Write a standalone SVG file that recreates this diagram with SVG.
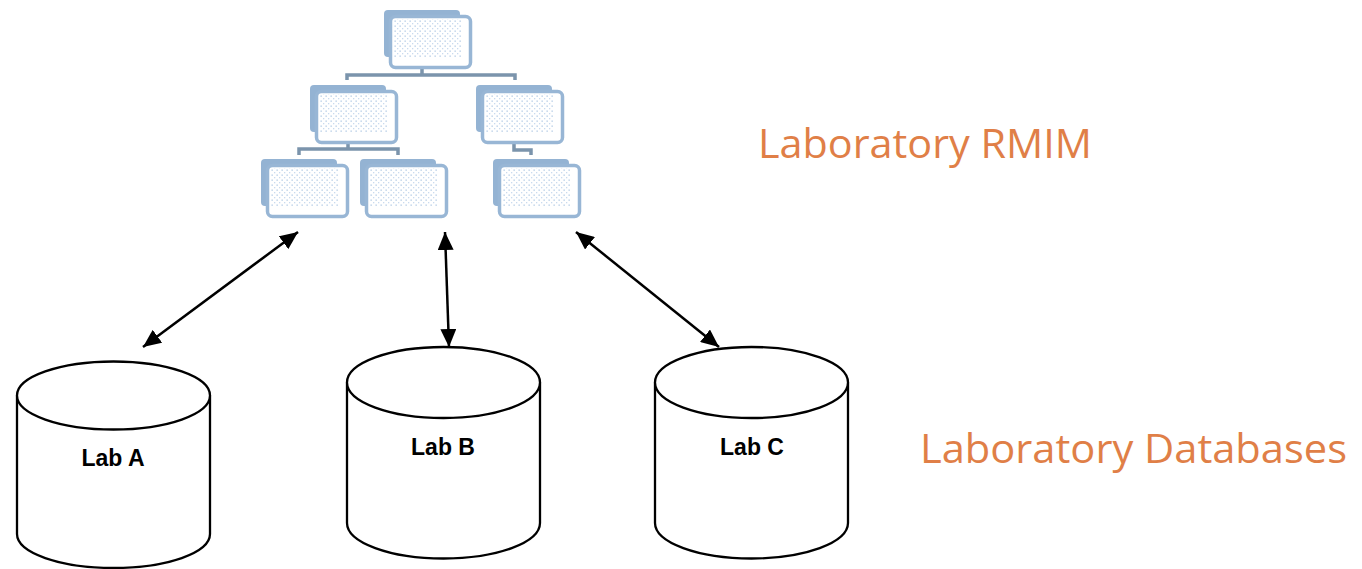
<svg xmlns="http://www.w3.org/2000/svg" width="1362" height="569" viewBox="0 0 1362 569">
  <defs>
    <!-- fine dotted fill used inside the org-chart boxes -->
    <pattern id="dots" width="5" height="5" patternUnits="userSpaceOnUse">
      <rect x="0.5" y="0.5" width="1.3" height="1.3" fill="#AFC8E3"/>
      <rect x="3" y="3" width="1.3" height="1.3" fill="#C9DAEE"/>
    </pattern>
    <marker id="arrow" viewBox="0 0 18 16" refX="18" refY="8" markerWidth="18" markerHeight="16" markerUnits="userSpaceOnUse" orient="auto-start-reverse">
      <path d="M0,0 L18,8 L0,16 Z" fill="#000"/>
    </marker>
    <!-- one org-chart card: shadow plate behind a framed card -->
    <g id="card">
      <rect x="0" y="0" width="76" height="47" rx="4" fill="#94B3D3"/>
      <rect x="6.5" y="6.5" width="80" height="51" rx="5" fill="#fff" stroke="#98B6D5" stroke-width="3.5"/>
      <rect x="10" y="9" width="67" height="38" fill="url(#dots)"/>
    </g>
  </defs>
  <style>
    .tree { fill: none; stroke: #7B94AC; stroke-width: 3.5; }
    .link { stroke: #000; stroke-width: 2.5; fill: none; }
    .db { fill: #fff; stroke: #000; stroke-width: 2.3; }
    .dbl { font-family: "Liberation Sans", Arial, sans-serif; font-weight: bold; font-size: 23px; fill: #000; text-anchor: middle; }
    .cap { font-family: "Open Sans", "DejaVu Sans", sans-serif; font-size: 40px; fill: #E07F47; }
  </style>

  <rect width="1362" height="569" fill="#fff"/>

  <!-- hierarchy lines of the RMIM tree -->
  <g id="tree-lines">
    <path class="tree" d="M422,66 V75 M347,80 V75 H515 V80"/>
    <path class="tree" d="M348,140 V149 M299,155 V149 H398 V155"/>
    <path class="tree" d="M514,140 V150 H531 V155"/>
  </g>

  <!-- RMIM cards -->
  <g id="rmim-root"><use href="#card" x="384" y="10"/></g>
  <g id="rmim-l2a"><use href="#card" x="310" y="85"/></g>
  <g id="rmim-l2b"><use href="#card" x="476" y="85"/></g>
  <g id="rmim-l3a"><use href="#card" x="261" y="159"/></g>
  <g id="rmim-l3b"><use href="#card" x="360" y="159"/></g>
  <g id="rmim-l3c"><use href="#card" x="493" y="159"/></g>

  <!-- database cylinders -->
  <g id="lab-a">
    <path class="db" d="M17,395.5 V534 A96.5,34 0 0 0 210,534 V395.5"/>
    <ellipse class="db" cx="113.5" cy="395.5" rx="96.5" ry="34"/>
    <text class="dbl" x="113" y="466">Lab A</text>
  </g>
  <g id="lab-b">
    <path class="db" d="M347,382.5 V523 A96.5,35.5 0 0 0 540,523 V382.5"/>
    <ellipse class="db" cx="443.5" cy="382.5" rx="96.5" ry="35.5"/>
    <text class="dbl" x="443" y="455">Lab B</text>
  </g>
  <g id="lab-c">
    <path class="db" d="M655,382.5 V523 A96.5,35.5 0 0 0 848,523 V382.5"/>
    <ellipse class="db" cx="751.5" cy="382.5" rx="96.5" ry="35.5"/>
    <text class="dbl" x="752" y="455">Lab C</text>
  </g>

  <!-- two-way links between the model and each database -->
  <g id="connectors">
    <line class="link" x1="298" y1="232" x2="143" y2="347" marker-start="url(#arrow)" marker-end="url(#arrow)"/>
    <line class="link" x1="445" y1="232" x2="449" y2="347" marker-start="url(#arrow)" marker-end="url(#arrow)"/>
    <line class="link" x1="576" y1="232" x2="719" y2="347" marker-start="url(#arrow)" marker-end="url(#arrow)"/>
  </g>

  <!-- captions -->
  <text class="cap" x="758" y="158" textLength="334" lengthAdjust="spacingAndGlyphs">Laboratory RMIM</text>
  <text class="cap" x="920" y="463" textLength="427" lengthAdjust="spacingAndGlyphs">Laboratory Databases</text>
</svg>
